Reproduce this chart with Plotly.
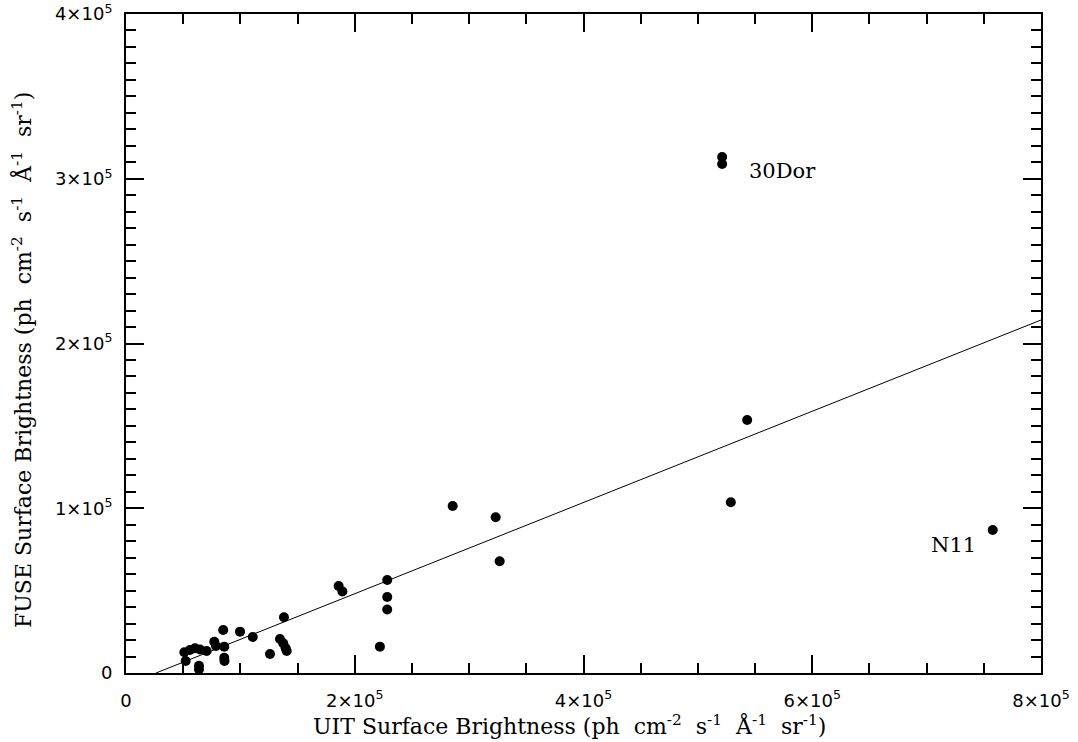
import numpy as np
import plotly.graph_objects as go

# UIT vs FUSE surface brightness (ph cm^-2 s^-1 A^-1 sr^-1)
uit = [51000, 52200, 55900, 60300, 64700, 70500, 77200, 78700, 85000, 85900,
       85900, 86100, 63800, 63800, 99700, 110800, 125900, 134600, 137500, 139600,
       140500, 138100, 185900, 189200, 222000, 228400, 228400, 228400, 285600, 323200,
       326700, 521200, 521200, 528800, 543100, 757800]
fuse = [12600, 7300, 14000, 15000, 14300, 13400, 19000, 16400, 26100, 16000,
        9300, 7300, 4400, 2100, 25100, 21900, 11500, 20600, 18000, 15000,
        13400, 33800, 52800, 49500, 16000, 56500, 46100, 38500, 101400, 94500,
        67800, 313200, 309000, 103600, 153600, 86800]

# linear fit  fuse = slope * uit + intercept
fit_slope = 0.2769
fit_intercept = -7260.0

x_range = [0, 8e5]
y_range = [0, 4e5]
x_tickvals = [0, 2e5, 4e5, 6e5, 8e5]
x_ticktext = ["0", "2×10<sup>5</sup>", "4×10<sup>5</sup>", "6×10<sup>5</sup>", "8×10<sup>5</sup>"]
y_tickvals = [0, 1e5, 2e5, 3e5, 4e5]
y_ticktext = ["0", "1×10<sup>5</sup>", "2×10<sup>5</sup>", "3×10<sup>5</sup>", "4×10<sup>5</sup>"]

labels = ["30Dor", "N11"]
label_x = [542800, 744700]
label_y = [304700, 77700]

S = "\u00a0\u00a0"
units = f"(ph{S}cm<sup>-2</sup>{S}s<sup>-1</sup>{S}Å<sup>-1</sup>{S}sr<sup>-1</sup>)"
x_title = f"UIT Surface Brightness {units}"
y_title = f"FUSE Surface Brightness {units}"

fit_x = np.array([-fit_intercept / fit_slope, x_range[1]])
fit_y = fit_slope * fit_x + fit_intercept

fig = go.Figure()
fig.add_trace(go.Scatter(x=fit_x, y=fit_y, mode="lines",
                         line=dict(color="black", width=1), showlegend=False,
                         hoverinfo="skip"))
fig.add_trace(go.Scatter(x=uit, y=fuse, mode="markers",
                         marker=dict(color="black", size=10), showlegend=False))

fig.add_annotation(x=label_x[0], y=label_y[0], text=labels[0], showarrow=False,
                   xanchor="left", yanchor="middle",
                   font=dict(family="DejaVu Serif", size=21, color="black"))
fig.add_annotation(x=label_x[1], y=label_y[1], text=labels[1], showarrow=False,
                   xanchor="right", yanchor="middle",
                   font=dict(family="DejaVu Serif", size=21, color="black"))

title_font = dict(family="DejaVu Serif", size=22, color="black")
fig.add_annotation(xref="paper", yref="paper", x=(569 - 126) / 915, y=-(725 - 673) / 659,
                   text=x_title, showarrow=False, xanchor="center", yanchor="middle",
                   font=title_font)
fig.add_annotation(xref="paper", yref="paper", x=-(126 - 22) / 915, y=(673 - 360) / 659,
                   text=y_title, showarrow=False, xanchor="center", yanchor="middle",
                   textangle=-90, font=title_font)

axis_common = dict(
    showgrid=False, zeroline=False, automargin=False,
    showline=True, linecolor="black", linewidth=2, mirror="ticks",
    ticks="inside", ticklen=18, tickwidth=2, tickcolor="black",
    tickfont=dict(family="DejaVu Sans", size=18, color="black"),
)

fig.update_xaxes(
    range=x_range, tickmode="array", tickvals=x_tickvals, ticktext=x_ticktext,
    minor=dict(ticks="inside", ticklen=10, tickwidth=2, tickcolor="black", dtick=5e4),
    ticklabelstandoff=10,
    **axis_common,
)
fig.update_yaxes(
    range=y_range, tickmode="array", tickvals=y_tickvals, ticktext=y_ticktext,
    minor=dict(ticks="inside", ticklen=10, tickwidth=2, tickcolor="black", dtick=1e4),
    ticklabelstandoff=8,
    **axis_common,
)

fig.update_layout(
    width=1078, height=742,
    margin=dict(l=126, r=37, t=14, b=69, autoexpand=False),
    paper_bgcolor="white", plot_bgcolor="white",
    showlegend=False,
)

fig.write_html("out.html")
